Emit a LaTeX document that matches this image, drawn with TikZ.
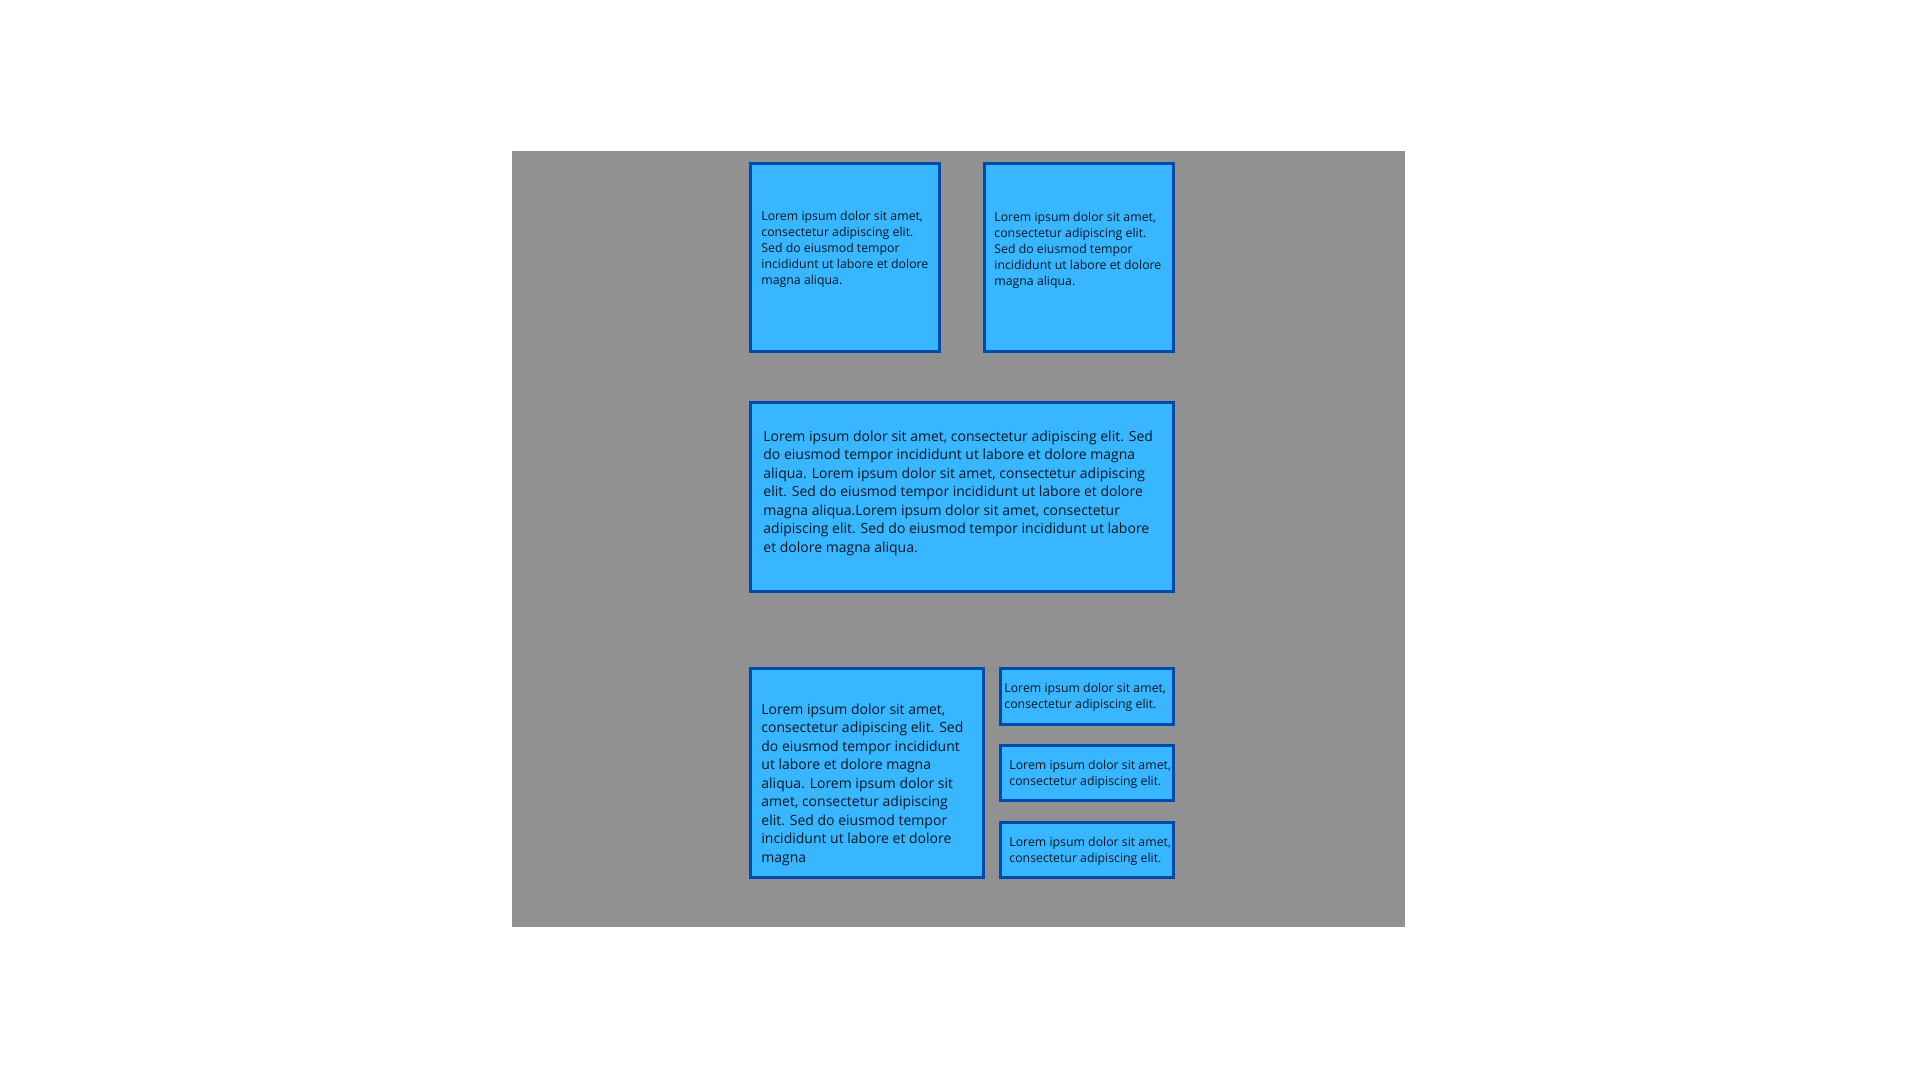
\documentclass[tikz,border=0pt]{standalone}
\usepackage{fontspec}
\setmainfont{Open Sans}
\definecolor{tilefill}{HTML}{38B6FF}
\definecolor{tileedge}{HTML}{004AAD}
\definecolor{panelgray}{HTML}{919191}
\definecolor{inkdark}{HTML}{0C1826}
\begin{document}
\begin{tikzpicture}[x=0.5pt,y=-0.5pt,
    tile/.style={draw=tileedge, fill=tilefill, line width=1.5pt, inner sep=0pt},
    smalltxt/.style={anchor=north west, inner sep=0pt, align=left, text=inkdark,
        font=\fontsize{6.15}{8}\selectfont},
    bigtxt/.style={anchor=north west, inner sep=0pt, align=left, text=inkdark,
        font=\fontsize{7}{9.25}\selectfont}]
        \useasboundingbox[fill=white] (0,0) rectangle (1920,1080);
        \fill[panelgray] (512,151) rectangle (1405,927);

        % top row
        \node[tile, minimum width=94.5pt, minimum height=94pt] (boxa) at (845,257.5) {};
        \node[tile, minimum width=94.5pt, minimum height=94pt] (boxb) at (1079,257.5) {};
        \node[smalltxt] (texta) at (761,211) {Lorem ipsum dolor sit amet,\\consectetur adipiscing elit.\\Sed do eiusmod tempor\\incididunt ut labore et dolore\\magna aliqua.};
        \node[smalltxt] (textb) at (994,212) {Lorem ipsum dolor sit amet,\\consectetur adipiscing elit.\\Sed do eiusmod tempor\\incididunt ut labore et dolore\\magna aliqua.};

        % middle
        \node[tile, minimum width=211.5pt, minimum height=94.5pt] (boxc) at (962,497) {};
        \node[bigtxt] (textc) at (763,430) {Lorem ipsum dolor sit amet, consectetur adipiscing elit. Sed\\do eiusmod tempor incididunt ut labore et dolore magna\\aliqua. Lorem ipsum dolor sit amet, consectetur adipiscing\\elit. Sed do eiusmod tempor incididunt ut labore et dolore\\magna aliqua.Lorem ipsum dolor sit amet, consectetur\\adipiscing elit. Sed do eiusmod tempor incididunt ut labore\\et dolore magna aliqua.};

        % bottom row
        \node[tile, minimum width=116.5pt, minimum height=104.5pt] (boxd) at (867,773) {};
        \node[bigtxt] (textd) at (761,703) {Lorem ipsum dolor sit amet,\\consectetur adipiscing elit. Sed\\do eiusmod tempor incididunt\\ut labore et dolore magna\\aliqua. Lorem ipsum dolor sit\\amet, consectetur adipiscing\\elit. Sed do eiusmod tempor\\incididunt ut labore et dolore\\magna};
        \node[tile, minimum width=86.5pt, minimum height=28pt] (boxe) at (1087,696.5) {};
        \node[tile, minimum width=86.5pt, minimum height=27.5pt] (boxf) at (1087,773) {};
        \node[tile, minimum width=86.5pt, minimum height=27.5pt] (boxg) at (1087,850) {};
        \node[smalltxt] (texte) at (1004,683) {Lorem ipsum dolor sit amet,\\consectetur adipiscing elit.};
        \node[smalltxt] (textf) at (1009,760) {Lorem ipsum dolor sit amet,\\consectetur adipiscing elit.};
        \node[smalltxt] (textg) at (1009,837) {Lorem ipsum dolor sit amet,\\consectetur adipiscing elit.};
    \end{tikzpicture}
\end{document}
